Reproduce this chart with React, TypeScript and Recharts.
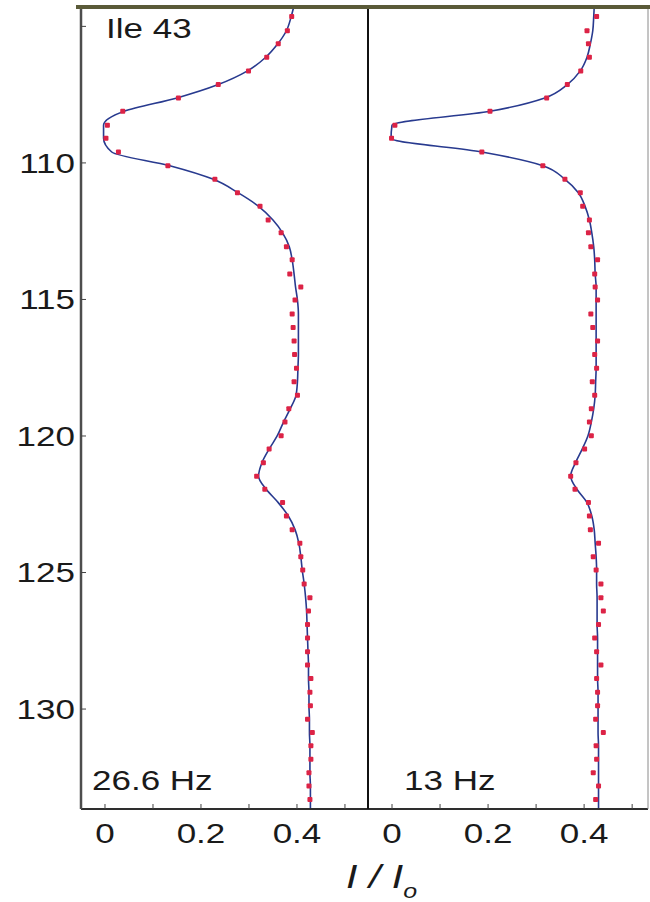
import React from 'react';
import { ComposedChart, Line, XAxis, YAxis } from 'recharts';

// chemical shift (ppm) of each sampled plane
const shift = [
  104.64, 105.16, 105.64, 106.13, 106.63, 107.13, 107.62, 108.11, 108.62, 109.1, 109.6, 110.1, 110.6, 111.09, 111.59,
  112.09, 112.56, 113.07, 113.55, 114.07, 114.54, 115.02, 115.53, 116.03, 116.52, 117.02, 117.52, 118.01, 118.51, 119.0,
  119.49, 119.99, 120.48, 120.98, 121.47, 121.95, 122.44, 122.93, 123.43, 123.93, 124.42, 124.91, 125.42, 125.92, 126.41,
  126.9, 127.4, 127.9, 128.39, 128.88, 129.38, 129.88, 130.37, 130.86, 131.34, 131.84, 132.33, 132.82, 133.31,
];

// I/Io, 26.6 Hz field
const obs266 = [
  0.389, 0.38, 0.361, 0.337, 0.299, 0.236, 0.153, 0.037, 0.005, 0.002, 0.028, 0.131, 0.229, 0.276, 0.323, 0.34, 0.367,
  0.378, 0.39, 0.385, 0.408, 0.396, 0.39, 0.392, 0.394, 0.395, 0.399, 0.394, 0.401, 0.383, 0.375, 0.367, 0.342, 0.33,
  0.316, 0.333, 0.37, 0.378, 0.39, 0.406, 0.408, 0.412, 0.415, 0.427, 0.424, 0.422, 0.422, 0.422, 0.422, 0.429, 0.427,
  0.428, 0.422, 0.432, 0.429, 0.429, 0.425, 0.425, 0.427,
];
const fit266 = [
  0.388, 0.378, 0.36, 0.335, 0.297, 0.236, 0.15, 0.04, -0.003, -0.003, 0.014, 0.135, 0.226, 0.277, 0.32, 0.35, 0.37,
  0.384, 0.39, 0.394, 0.397, 0.401, 0.403, 0.403, 0.403, 0.403, 0.402, 0.401, 0.398, 0.386, 0.372, 0.359, 0.342, 0.327,
  0.32, 0.336, 0.361, 0.382, 0.396, 0.404, 0.408, 0.411, 0.415, 0.418, 0.42, 0.421, 0.422, 0.423, 0.424, 0.424, 0.425,
  0.425, 0.426, 0.426, 0.427, 0.427, 0.427, 0.428, 0.428,
];

// I/Io, 13 Hz field
const obs13 = [
  0.426, 0.406, 0.409, 0.411, 0.393, 0.365, 0.322, 0.204, 0.006, -0.001, 0.187, 0.314, 0.36, 0.392, 0.397, 0.411, 0.409,
  0.414, 0.428, 0.422, 0.423, 0.428, 0.414, 0.418, 0.428, 0.422, 0.426, 0.417, 0.422, 0.415, 0.411, 0.415, 0.401, 0.383,
  0.372, 0.381, 0.409, 0.411, 0.413, 0.43, 0.419, 0.425, 0.435, 0.435, 0.44, 0.43, 0.422, 0.426, 0.435, 0.426, 0.428,
  0.428, 0.424, 0.44, 0.425, 0.426, 0.419, 0.43, 0.424,
];
const fit13 = [
  0.42, 0.418, 0.413, 0.406, 0.392, 0.365, 0.318, 0.204, 0.0, -0.002, 0.187, 0.314, 0.36, 0.388, 0.402, 0.411, 0.416,
  0.42, 0.422, 0.423, 0.425, 0.425, 0.425, 0.425, 0.425, 0.425, 0.425, 0.424, 0.423, 0.42, 0.415, 0.408, 0.396, 0.382,
  0.372, 0.385, 0.406, 0.416, 0.421, 0.423, 0.425, 0.426, 0.426, 0.427, 0.427, 0.427, 0.428, 0.428, 0.428, 0.428, 0.429,
  0.429, 0.429, 0.429, 0.43, 0.43, 0.43, 0.43, 0.43,
];

// fit curve values at the top and bottom of the shift window
const edgeShift = [104.3, 133.7];
const edge266 = [0.393, 0.428];
const edge13 = [0.421, 0.43];

const yTicks = [105, 110, 115, 120, 125, 130];
const xTicks = [0, 0.1, 0.2, 0.3, 0.4, 0.5];
const xLabels = [0, 0.2, 0.4];

const Y_DOMAIN = [104.29, 133.66];
const FONT = '"Liberation Sans", Arial, Helvetica, sans-serif';
const STRETCH = 1.25;
const DOT = '#dc2346';
const CURVE = '#283a8f';

const obsRows = (vals: number[]) => shift.map((s, i) => ({ shift: s, value: vals[i] }));
const fitRows = (vals: number[], ends: number[]) => [
  { shift: edgeShift[0], value: ends[0] },
  ...shift.map((s, i) => ({ shift: s, value: vals[i] })),
  { shift: edgeShift[1], value: ends[1] },
];

const YTick = ({ x, y, payload }: any) =>
  payload.value === 105 ? (
    <g />
  ) : (
    <g transform={`translate(${x},${y})`}>
      <text transform={`scale(${STRETCH},1)`} textAnchor="end" dy="0.35em" fontSize={28} fontFamily={FONT} fill="#1a1a1a">
        {payload.value}
      </text>
    </g>
  );

const XTick = ({ x, y, payload }: any) =>
  !xLabels.includes(payload.value) ? (
    <g />
  ) : (
    <g transform={`translate(${x},${y})`}>
      <text transform={`scale(${STRETCH},1)`} textAnchor="middle" dy="0.71em" fontSize={28} fontFamily={FONT} fill="#1a1a1a">
        {payload.value}
      </text>
    </g>
  );

const square = (p: any) => (
  <rect key={`d-${p.index}`} x={p.cx - 2.5} y={p.cy - 2.5} width={5} height={5} rx={1} fill={DOT} />
);

function Panel({
  obs,
  fit,
  ends,
  width,
  xMax,
  leftWidth,
  showShiftLabels,
  leftStroke,
}: {
  obs: number[];
  fit: number[];
  ends: number[];
  width: number;
  xMax: number;
  leftWidth: number;
  showShiftLabels: boolean;
  leftStroke: { stroke: string; strokeWidth: number };
}) {
  const tickLine = { stroke: '#444', strokeWidth: 1 };
  return (
    <ComposedChart width={width} height={902} layout="vertical" margin={{ top: 6, right: 0, bottom: 0, left: 0 }}>
      <XAxis
        xAxisId="t"
        orientation="top"
        type="number"
        domain={[-0.05, xMax]}
        ticks={xTicks}
        height={1}
        allowDataOverflow
        axisLine={false}
        tick={false}
        tickSize={-4}
        tickLine={tickLine}
      />
      <XAxis
        xAxisId="b"
        orientation="bottom"
        type="number"
        domain={[-0.05, xMax]}
        ticks={xTicks}
        height={93}
        allowDataOverflow
        axisLine={{ stroke: '#2e2e2e', strokeWidth: 2 }}
        tickSize={-5}
        tickMargin={19}
        tickLine={tickLine}
        tick={<XTick />}
      />
      <YAxis
        yAxisId="l"
        orientation="left"
        type="number"
        dataKey="shift"
        domain={Y_DOMAIN}
        ticks={yTicks}
        width={leftWidth}
        allowDataOverflow
        axisLine={leftStroke}
        tickSize={-5}
        tickMargin={11}
        tickLine={tickLine}
        tick={showShiftLabels ? <YTick /> : false}
      />
      <YAxis
        yAxisId="r"
        orientation="right"
        type="number"
        dataKey="shift"
        domain={Y_DOMAIN}
        ticks={yTicks}
        width={2}
        allowDataOverflow
        axisLine={showShiftLabels ? { stroke: '#111', strokeWidth: 2 } : { stroke: '#8a8a8a', strokeWidth: 1 }}
        tickSize={-5}
        tickLine={tickLine}
        tick={false}
      />
      <Line
        xAxisId="b"
        yAxisId="l"
        data={fitRows(fit, ends)}
        dataKey="value"
        type="monotoneY"
        stroke={CURVE}
        strokeWidth={1.6}
        dot={false}
        isAnimationActive={false}
      />
      <Line
        xAxisId="b"
        yAxisId="l"
        data={obsRows(obs)}
        dataKey="value"
        stroke="none"
        dot={square}
        activeDot={false}
        isAnimationActive={false}
      />
    </ComposedChart>
  );
}

export default function App() {
  const text = { fontFamily: FONT, fill: '#1a1a1a' };
  return (
    <div style={{ position: 'absolute', left: 0, top: 0, width: 650, height: 902, background: '#fff', overflow: 'hidden' }}>
      <div style={{ position: 'absolute', left: 0, top: 0 }}>
        <Panel
          obs={obs266}
          fit={fit266}
          ends={edge266}
          width={370}
          xMax={0.548}
          leftWidth={81}
          showShiftLabels
          leftStroke={{ stroke: '#4d4d4d', strokeWidth: 2.5 }}
        />
      </div>
      <div style={{ position: 'absolute', left: 366, top: 0 }}>
        <Panel
          obs={obs13}
          fit={fit13}
          ends={edge13}
          width={284}
          xMax={0.533}
          leftWidth={2}
          showShiftLabels={false}
          leftStroke={{ stroke: '#111', strokeWidth: 2 }}
        />
      </div>
      <svg width={650} height={902} style={{ position: 'absolute', left: 0, top: 0, pointerEvents: 'none' }}>
        <rect x={76} y={5} width={574} height={4} fill="#5a5a38" />
        <text transform={`translate(106,38) scale(${STRETCH},1)`} fontSize={28} {...text}>
          Ile 43
        </text>
        <text transform={`translate(92,790) scale(${STRETCH},1)`} fontSize={28} {...text}>
          26.6 Hz
        </text>
        <text transform={`translate(404,790) scale(${STRETCH},1)`} fontSize={28} {...text}>
          13 Hz
        </text>
        <text transform={`translate(346,888) scale(${STRETCH},1)`} fontSize={33} fontStyle="italic" {...text}>
          I / I
          <tspan fontSize={20} dy={10}>
            o
          </tspan>
        </text>
      </svg>
    </div>
  );
}
